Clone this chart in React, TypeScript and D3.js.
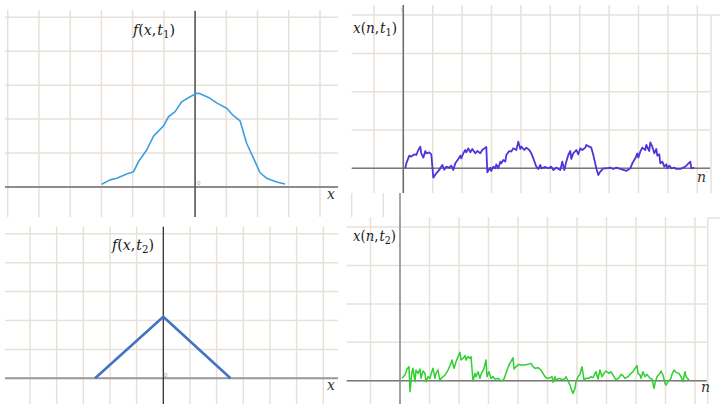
import React from 'react';
import * as d3 from 'd3';

// ---------- data ----------
// Panel 1: f(x,t1) (x in grid units, value in grid units)
const p1X = [-2.99, -2.72, -2.51, -2.19, -1.97, -1.81, -1.55, -1.33, -1.01, -0.85, -0.64, -0.43, -0.16, 0.05, 0.16, 0.43, 0.69, 1.01, 1.23, 1.44, 1.65, 1.87, 2.08, 2.29, 2.61, 2.88];
const p1V = [0.08, 0.21, 0.26, 0.38, 0.45, 0.75, 1.09, 1.5, 1.8, 2.07, 2.22, 2.51, 2.66, 2.76, 2.75, 2.64, 2.48, 2.32, 2.1, 1.95, 1.29, 0.85, 0.42, 0.26, 0.15, 0.09];
const p1XGrid = [-6, -5, -4, -3, -2, -1, 0, 1, 2, 3, 4];
const p1YGrid = [0, 1, 2, 3, 4, 5];

// Panel 2: x(n,t1) (n = sample index, value in amplitude units)
const p2N = [2, 3, 6, 8, 11, 13, 15, 17, 18, 20, 22, 23, 26, 28, 30, 33, 36, 37, 39, 41, 43, 46, 48, 50, 52, 55, 57, 58, 60, 62, 63, 65, 67, 69, 72, 74, 77, 79, 82, 83, 84, 87, 88, 90, 92, 93, 95, 97, 98, 100, 102, 103, 106, 108, 110, 113, 115, 117, 118, 121, 123, 126, 128, 130, 133, 135, 137, 138, 142, 145, 148, 150, 153, 157, 159, 161, 163, 165, 167, 168, 170, 173, 175, 177, 179, 182, 183, 186, 188, 190, 193, 195, 197, 200, 203, 207, 210, 213, 217, 220, 223, 227, 229, 232, 234, 235, 237, 239, 242, 243, 246, 247, 249, 251, 253, 254, 256, 257, 259, 261, 263, 264, 266, 268, 271, 273, 277, 280, 283, 287, 288, 291];
const p2V = [0, 15, 38, 35, 42, 40, 55, 65, 45, 32, 52, 45, 48, 42, -28, -15, -5, 0, 10, -4, 5, 2, 8, -5, 15, 28, 38, 30, 45, 55, 48, 60, 48, 58, 45, 52, 45, 55, 62, 64, -12, 2, -8, 5, 0, 12, 0, 20, 15, 25, 20, 40, 52, 50, 60, 55, 80, 58, 65, 55, 62, 55, 45, 30, 5, -2, 10, 0, 4, 0, 5, -5, 2, -5, 20, -5, 20, 40, 52, 28, 45, 55, 42, 60, 55, 62, 70, 65, 62, 40, 0, -20, -10, 0, 0, 2, -2, 2, -2, -5, -8, 0, 15, 30, 45, 32, 50, 62, 55, 70, 52, 78, 65, 45, 58, 38, 42, 15, 20, 5, 12, 0, 8, 0, 2, -2, -2, 2, 8, 20, 0, 2];
const p2SamplesPerGrid = 29.4;
const p2UnitsPerGrid = 115;

// Panel 3: f(x,t2)
const p3X = [-2.56, 0, 2.52];
const p3V = [0, 2.13, 0];
const p3XGrid = [-5, -4, -3, -2, -1, 0, 1, 2, 3, 4, 5, 6];
const p3YGrid = [0, 1, 2, 3, 4, 5];

// Panel 4: x(n,t2)
const p4N = [2, 5, 7, 9, 10, 12, 13, 15, 16, 18, 20, 21, 23, 25, 26, 28, 30, 31, 33, 35, 36, 38, 40, 41, 45, 48, 51, 52, 54, 56, 59, 60, 61, 63, 65, 66, 68, 70, 71, 73, 75, 76, 78, 80, 81, 84, 86, 87, 89, 91, 93, 95, 98, 101, 104, 106, 109, 111, 113, 114, 116, 119, 121, 125, 128, 131, 133, 135, 138, 141, 143, 145, 147, 150, 152, 153, 155, 156, 159, 161, 163, 165, 166, 168, 170, 171, 173, 175, 176, 178, 180, 181, 182, 184, 186, 189, 191, 193, 195, 196, 198, 200, 202, 204, 206, 209, 211, 214, 216, 219, 221, 223, 225, 228, 231, 233, 235, 237, 238, 240, 241, 243, 245, 247, 250, 252, 254, 255, 257, 260, 261, 263, 265, 266, 268, 271, 272, 274, 276, 279, 281, 283, 285, 286, 289];
const p4V = [7, 17, 35, 42, -33, 27, 37, -3, 32, 22, 35, 7, 29, 22, -3, 12, 7, 19, 37, 7, 22, 32, -1, 7, 17, 32, 52, 62, 37, 57, 79, 85, 62, 67, 75, 62, 72, 67, 72, -1, 22, 12, 27, 7, 19, 37, 62, 12, 27, 7, 12, 5, 7, -1, 5, 22, 47, 57, 69, 35, 42, 49, 47, 47, 49, 52, 42, 37, 39, 32, 22, 12, 7, 9, 12, -5, 12, 2, 7, 5, 2, 7, 12, -1, -13, -23, -38, -23, -3, 12, 19, 32, 42, 2, 7, 7, 12, 9, 22, 27, 5, 32, 12, 22, 29, 22, 27, 12, 2, 9, 19, 15, 7, 12, 22, 27, 37, 45, 22, 17, 7, 27, 12, 19, 7, 5, -23, -8, 12, 22, 29, 17, -8, -13, -3, 7, 19, 32, 25, 22, 12, -3, 27, 12, 2];
const p4SamplesPerGrid = 29.5;
const p4UnitsPerGrid = 115;

// ---------- styles ----------
const GRID = '#e8e1d9';
const SERIF = "'DejaVu Serif', 'Liberation Serif', serif";

type Pt = [number, number];

function MathLabel({ x, y, fn, arg, sub, size, width }: { x: number; y: number; fn: string; arg: string; sub: string; size: number; width: number }) {
  return (
    <text x={x} y={y} fontFamily={SERIF} fontSize={size} fill="#1a1a1a" textLength={width} lengthAdjust="spacingAndGlyphs">
      <tspan fontStyle="italic">{fn}</tspan>
      <tspan>(</tspan>
      <tspan fontStyle="italic">{arg}</tspan>
      <tspan>,</tspan>
      <tspan fontStyle="italic" dx={1}>t</tspan>
      <tspan fontSize={size * 0.72} dy={size * 0.22}>{sub}</tspan>
      <tspan dy={-size * 0.22}>)</tspan>
    </text>
  );
}

function Grid({ xs, ys, xScale, yScale, hx, vy }: any) {
  return (
    <g stroke={GRID} strokeWidth={1.5}>
      {ys.map((v: number, i: number) => (
        <line key={'h' + i} x1={hx[0]} x2={hx[1]} y1={yScale(v)} y2={yScale(v)} />
      ))}
      {xs.map((v: number, i: number) => (
        <line key={'v' + i} x1={xScale(v)} x2={xScale(v)} y1={vy[0]} y2={vy[1]} />
      ))}
    </g>
  );
}

export default function App() {
  // Panel 1 scales
  const x1 = d3.scaleLinear().domain([-6, 4]).range([7.7, 320]);
  const y1 = d3.scaleLinear().domain([0, 5]).range([187, 17.3]);
  // Panel 2
  const x2 = d3.scaleLinear().domain([0, 10 * p2SamplesPerGrid]).range([403.3, 697.3]);
  const y2 = d3.scaleLinear().domain([0, p2UnitsPerGrid]).range([168.3, 130]);
  const p2XGrid = d3.range(-1, 11).map((k) => k * p2SamplesPerGrid);
  const p2YGrid = d3.range(0, 5).map((k) => k * p2UnitsPerGrid);
  // Panel 3
  const x3 = d3.scaleLinear().domain([-5, 6]).range([30, 323.3]);
  const y3 = d3.scaleLinear().domain([0, 5]).range([378.3, 233.8]);
  // Panel 4
  const x4 = d3.scaleLinear().domain([0, 10 * p4SamplesPerGrid]).range([400, 695]);
  const y4 = d3.scaleLinear().domain([0, p4UnitsPerGrid]).range([380.7, 342.3]);
  const p4XGrid = d3.range(-1, 11).map((k) => k * p4SamplesPerGrid);
  const p4YGrid = d3.range(0, 5).map((k) => k * p4UnitsPerGrid);

  const mk = (sx: any, sy: any) => d3.line<Pt>().x((d) => sx(d[0])).y((d) => sy(d[1]));

  const d1 = mk(x1, y1)(p1X.map((v, i) => [v, p1V[i]] as Pt)) || '';
  const d2 = mk(x2, y2)(p2N.map((v, i) => [v, p2V[i]] as Pt)) || '';
  const d3p = mk(x3, y3)(p3X.map((v, i) => [v, p3V[i]] as Pt)) || '';
  const d4 = mk(x4, y4)(p4N.map((v, i) => [v, p4V[i]] as Pt)) || '';

  return (
    <svg width={720} height={404} style={{ position: 'absolute', left: 0, top: 0, background: '#fff' }}>
      <rect x={0} y={0} width={720} height={404} fill="#fff" />

      {/* ---------- Panel 1 ---------- */}
      <Grid xs={p1XGrid} ys={p1YGrid} xScale={x1} yScale={y1} hx={[5, 338]} vy={[10, 217]} />
      <line x1={5} x2={338} y1={y1(0)} y2={y1(0)} stroke="#8c8c8c" strokeWidth={2} />
      <line x1={x1(0)} x2={x1(0)} y1={11} y2={217} stroke="#505050" strokeWidth={1.5} />
      <path d={d1} fill="none" stroke="#3d9fe0" strokeWidth={1.6} strokeLinejoin="round" />
      <MathLabel x={133} y={34.5} fn="f" arg="x" sub="1" size={15} width={42} />
      <text x={327} y={199} fontFamily={SERIF} fontStyle="italic" fontSize={14} fill="#333">x</text>
      <text x={197} y={185} fontFamily="Arial, sans-serif" fontSize={6} fill="#999">0</text>

      {/* ---------- Panel 2 ---------- */}
      <Grid xs={p2XGrid} ys={p2YGrid} xScale={x2} yScale={y2} hx={[351.7, 710]} vy={[5, 193]} />
      <line x1={351.7} x2={710} y1={y2(0)} y2={y2(0)} stroke="#7a7a7a" strokeWidth={1.5} />
      <line x1={x2(0)} x2={x2(0)} y1={5} y2={193} stroke="#6a6a6a" strokeWidth={1.5} />
      <line x1={711} x2={711} y1={15} y2={193} stroke="#e2e2e2" strokeWidth={1.5} />
      <line x1={711} x2={720} y1={15} y2={15} stroke="#e2e2e2" strokeWidth={1.5} />
      <path d={d2} fill="none" stroke="#5232dc" strokeWidth={1.8} strokeLinejoin="round" />
      <MathLabel x={353} y={32.5} fn="x" arg="n" sub="1" size={15} width={44} />
      <text x={697} y={182} fontFamily={SERIF} fontStyle="italic" fontSize={14} fill="#333">n</text>
      <text x={401} y={11} fontFamily="Arial, sans-serif" fontSize={5} fill="#999">y</text>
      <text x={706} y={175} fontFamily="Arial, sans-serif" fontSize={5} fill="#999">'</text>

      {/* stubs between the right panels */}
      <g stroke={GRID} strokeWidth={1.5}>
        <line x1={351.7} x2={351.7} y1={193} y2={217} />
        <line x1={383.3} x2={383.3} y1={193} y2={217} />
      </g>

      {/* ---------- Panel 3 ---------- */}
      <Grid xs={p3XGrid} ys={p3YGrid} xScale={x3} yScale={y3} hx={[5, 338]} vy={[226.7, 404]} />
      <line x1={5} x2={338} y1={y3(0)} y2={y3(0)} stroke="#9a9a9a" strokeWidth={2} />
      <line x1={x3(0)} x2={x3(0)} y1={226.7} y2={404} stroke="#2a2a2a" strokeWidth={1.2} />
      <path d={d3p} fill="none" stroke="#4472c4" strokeWidth={2.6} strokeLinejoin="miter" />
      <MathLabel x={112} y={249.5} fn="f" arg="x" sub="2" size={15} width={42} />
      <text x={327} y={390} fontFamily={SERIF} fontStyle="italic" fontSize={14} fill="#333">x</text>
      <text x={164} y={377} fontFamily="Arial, sans-serif" fontSize={6} fill="#999">0</text>

      {/* ---------- Panel 4 ---------- */}
      <Grid xs={p4XGrid} ys={p4YGrid} xScale={x4} yScale={y4} hx={[346.7, 706.7]} vy={[217, 404]} />
      <line x1={346.7} x2={706.7} y1={y4(0)} y2={y4(0)} stroke="#7a7a7a" strokeWidth={1.5} />
      <line x1={x4(0)} x2={x4(0)} y1={193} y2={404} stroke="#8a8a8a" strokeWidth={1.5} />
      <line x1={707.7} x2={707.7} y1={218} y2={404} stroke="#e2e2e2" strokeWidth={1.5} />
      <line x1={707.7} x2={720} y1={218} y2={218} stroke="#e2e2e2" strokeWidth={1.5} />
      <path d={d4} fill="none" stroke="#2fcf2f" strokeWidth={1.5} strokeLinejoin="round" />
      <MathLabel x={353} y={240.5} fn="x" arg="n" sub="2" size={15} width={43} />
      <text x={701} y={392} fontFamily={SERIF} fontStyle="italic" fontSize={14} fill="#333">n</text>
    </svg>
  );
}
